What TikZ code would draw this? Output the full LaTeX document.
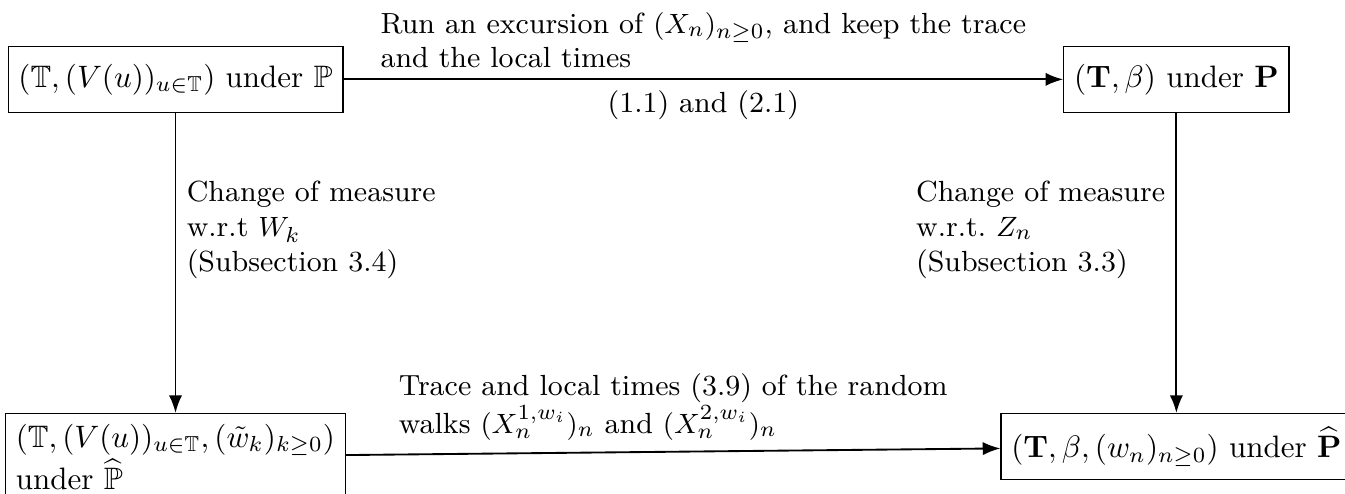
\documentclass[tikz,border=0pt]{standalone}
\usepackage{amsmath}
\usepackage{amssymb}
\usepackage{tikz}
\usetikzlibrary{positioning, arrows.meta}

\begin{document}
\begin{tikzpicture}[
  box/.style={draw, minimum height=0.75cm},
  lbl/.style={align=left, font=\fontsize{9.4}{11.2}\selectfont},
  conn/.style={-{Latex}, semithick},
]
  \useasboundingbox (-1.99,0.9) rectangle (13.26,-4.695);
  \node[box] (tree) at (0,0)
    {$(\mathbb{T},(V(u))_{u\in\mathbb{T}})$ under $\mathbb{P}$};
  \node[box, right=8.16cm of tree] (beta)
    {$(\mathbf{T},\beta)$ under $\mathbf{P}$};
  \node[box, below=3.4cm of tree, text width=3.62cm, align=left] (treew)
    {$(\mathbb{T},(V(u))_{u\in\mathbb{T}},(\tilde{w}_k)_{k\geq 0})$\\
     under $\widehat{\mathbb{P}}$};
  \node[box, below=3.4cm of beta] (betaw)
    {$(\mathbf{T},\beta,(w_n)_{n\geq 0})$ under $\widehat{\mathbf{P}}$};

  \draw[conn] (tree) -- (beta)
    node[lbl, midway, above] {Run an excursion of $(X_n)_{n\geq 0}$, and keep the trace\\
                              and the local times}
    node[lbl, midway, below] {(1.1) and (2.1)};
  \draw[conn] (tree) -- (treew)
    node[lbl, pos=0.39, right] {Change of measure\\ w.r.t $W_k$\\ (Subsection 3.4)};
  \draw[conn] (beta) -- (betaw)
    node[lbl, pos=0.39, left] {Change of measure\\ w.r.t.\ $Z_n$\\ (Subsection 3.3)};
  \draw[conn] (treew) -- (betaw)
    node[lbl, midway, above] {Trace and local times (3.9) of the random\\
                              walks $(X^{1,w_i}_n)_n$ and $(X^{2,w_i}_n)_n$};
\end{tikzpicture}
\end{document}
